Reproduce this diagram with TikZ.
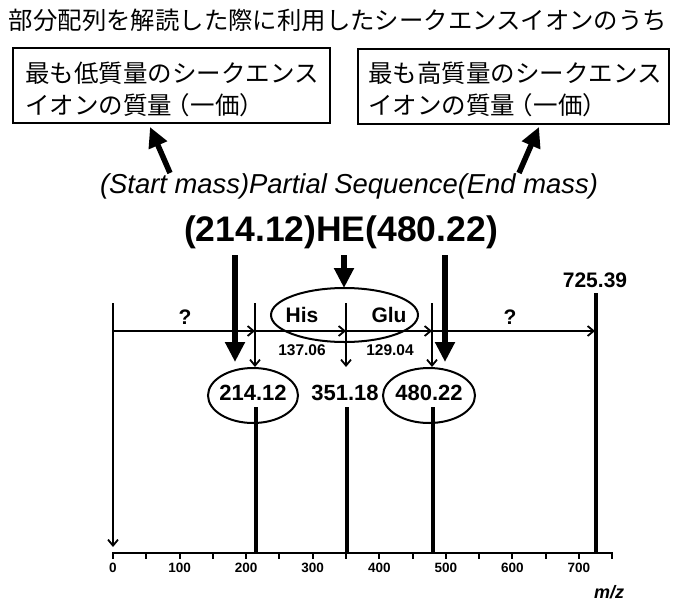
\documentclass[tikz,border=0pt]{standalone}
\usepackage{fontspec}
\setmainfont{Liberation Sans}
\newfontfamily\jp{Noto Sans CJK JP}
\usetikzlibrary{arrows.meta,shapes.geometric}
\begin{document}
\begin{tikzpicture}[x=1pt,y=-1pt,
  box/.style={draw,line width=2pt,minimum width=317pt,minimum height=75pt,inner sep=0pt},
  jtxt/.style={font=\jp\fontsize{24.5}{26}\selectfont,inner sep=0pt,anchor=west},
  thickarr/.style={line width=6pt,-{Triangle[length=20pt,width=19pt]}},
  thinarr/.style={line width=1.8pt,-{Straight Barb[length=6pt,width=10pt]}},
  oval/.style={draw,ellipse,line width=2pt,inner sep=0pt},
  lbl/.style={font=\bfseries\fontsize{21}{21}\selectfont,inner sep=0pt},
  small/.style={font=\bfseries\fontsize{15.5}{15.5}\selectfont,inner sep=0pt},
  ticklbl/.style={font=\bfseries\fontsize{13.5}{13.5}\selectfont,inner sep=0pt},
  peak/.style={line width=4pt},
  thinline/.style={line width=1.8pt}
]
\useasboundingbox (0,0) rectangle (676,602);
% title
\node[font=\jp\fontsize{24.4}{26}\selectfont,inner sep=0pt] (title) at (338,20) {部分配列を解読した際に利用したシークエンスイオンのうち};
% boxes
\node[box] (b1) at (171.5,85.5) {};
\node[jtxt] (t1a) at (25,73) {最も低質量のシークエンス};
\node[jtxt] (t1b) at (25,105) {イオンの質量\kern-7pt（\kern1pt一価）};
\node[box,minimum width=311pt] (b2) at (513.5,86.5) {};
\node[jtxt] (t2a) at (368,73) {最も高質量のシークエンス};
\node[jtxt] (t2b) at (368,105) {イオンの質量\kern-7pt（\kern1pt一価）};
% subtitle and sequence
\node[font=\itshape\fontsize{27.4}{28}\selectfont,inner sep=0pt] (sub) at (349,186) {(Start mass)Partial Sequence(End mass)};
\node[font=\bfseries\fontsize{35.5}{36}\selectfont,inner sep=0pt] (seq) at (341,232) {(214.12)HE(480.22)};
% arrows to boxes
\coordinate (a1s) at (170,173); \coordinate (a1e) at (150,127);
\coordinate (a2s) at (519,173); \coordinate (a2e) at (539,127);
\draw[thickarr,line width=5.5pt] (a1s) -- (a1e);
\draw[thickarr,line width=5.5pt] (a2s) -- (a2e);
% His/Glu ellipse
\node[oval,minimum width=147pt,minimum height=54pt] (hg) at (344.5,315) {};
\node[lbl] (his) at (302,315) {His};
\node[lbl] (glu) at (389,315) {Glu};
\node[small] (m1) at (302,350) {137.06};
\node[small] (m2) at (390,350) {129.04};
% thick down arrows
\coordinate (d1s) at (235,255); \coordinate (d1e) at (235,362);
\coordinate (d2s) at (344,255); \coordinate (d2e) at (344,288);
\coordinate (d3s) at (445,255); \coordinate (d3e) at (445,362);
\draw[thickarr] (d1s) -- (d1e);
\draw[thickarr] (d2s) -- (d2e);
\draw[thickarr] (d3s) -- (d3e);
% vertical markers
\coordinate (v0t) at (113,303); \coordinate (v0b) at (113,547);
\coordinate (v1t) at (255,303); \coordinate (v1b) at (255,367);
\coordinate (v2t) at (346,303); \coordinate (v2b) at (346,367);
\coordinate (v3t) at (432,303); \coordinate (v3b) at (432,367);
\draw[thinarr] (v0t) -- (v0b);
\draw[thinarr] (v1t) -- (v1b);
\draw[thinarr] (v2t) -- (v2b);
\draw[thinarr] (v3t) -- (v3b);
% horizontal arrows
\coordinate (h0) at (113,331); \coordinate (h1) at (255,331);
\coordinate (h2) at (346,331); \coordinate (h3) at (432,331);
\coordinate (h4) at (595,331);
\draw[thinarr] (h0) -- (h1);
\draw[thinarr] (h1) -- (h2);
\draw[thinarr] (h2) -- (h3);
\draw[thinarr] (h3) -- (h4);
\node[lbl] (q1) at (185,317) {?};
\node[lbl] (q2) at (510,317) {?};
% peak ellipses and labels
\node[oval,minimum width=90pt,minimum height=55pt] (p1) at (253,395.5) {};
\node[lbl,font=\bfseries\fontsize{22}{22}\selectfont] (p1t) at (253,393) {214.12};
\node[lbl,font=\bfseries\fontsize{22}{22}\selectfont] (p2t) at (345,393) {351.18};
\node[oval,minimum width=92pt,minimum height=55pt] (p3) at (429,395.5) {};
\node[lbl,font=\bfseries\fontsize{22}{22}\selectfont] (p3t) at (429,393) {480.22};
\node[lbl] (p4t) at (595,280) {725.39};
% axis
\coordinate (ax0) at (112,553); \coordinate (ax1) at (613,553);
\draw[line width=2.5pt] (ax0) -- (ax1);
\foreach \v in {0,50,...,750} {
  \draw[line width=2pt] ({113+0.6657*\v},553) -- ({113+0.6657*\v},559);
}
\foreach \v in {0,100,...,700} {
  \node[ticklbl] at ({113+0.6657*\v},568) {\v};
}
\node[font=\bfseries\itshape\fontsize{18}{18}\selectfont,inner sep=0pt] (mz) at (609,592) {m/z};
% peaks
\coordinate (k1t) at (255.5,407); \coordinate (k1b) at (255.5,553);
\coordinate (k2t) at (346.8,407); \coordinate (k2b) at (346.8,553);
\coordinate (k3t) at (432.7,407); \coordinate (k3b) at (432.7,553);
\coordinate (k4t) at (595.5,293); \coordinate (k4b) at (595.5,553);
\draw[peak] (k1t) -- (k1b);
\draw[peak] (k2t) -- (k2b);
\draw[peak] (k3t) -- (k3b);
\draw[peak] (k4t) -- (k4b);
\end{tikzpicture}
\end{document}
